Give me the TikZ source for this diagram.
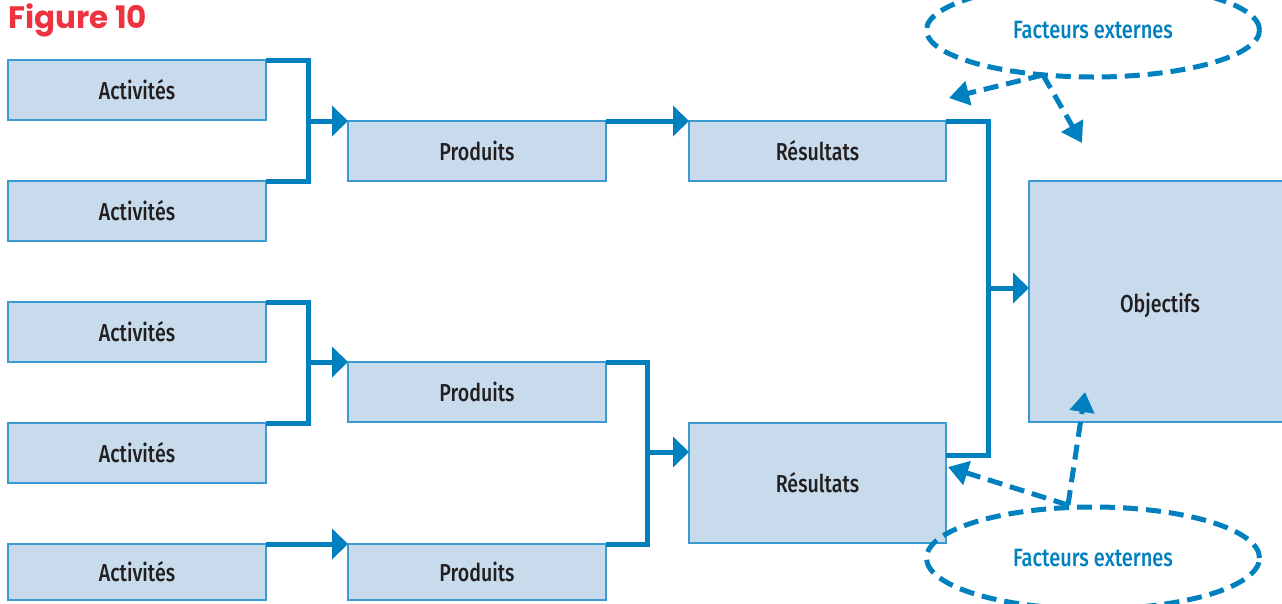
\documentclass[tikz,border=0pt]{standalone}
\usepackage{fontspec}
\usetikzlibrary{arrows.meta,shapes.geometric}
\newfontfamily\boxfont{Fira Sans}[UprightFont=* Medium, FakeStretch=0.8]
\newfontfamily\titlefont{Poppins}
\definecolor{boxfill}{HTML}{C8DBEC}
\definecolor{boxline}{HTML}{3C9AD2}
\definecolor{conncol}{HTML}{0080BE}
\definecolor{txt}{HTML}{231F20}
\definecolor{titlered}{HTML}{EE3340}
\tikzset{
  box/.style={draw=boxline, line width=1.5pt, fill=boxfill, inner sep=0pt, outer sep=0pt,
    minimum width=258pt, minimum height=60pt, anchor=north west,
    font=\boxfont\fontsize{24.5}{26}\selectfont, text=txt},
  conn/.style={draw=conncol, line width=5pt},
  arr/.style={conn, -{Triangle[length=16pt,width=30pt]}},
  darr/.style={conn, dash pattern=on 15pt off 8pt, -{Triangle[length=20pt,width=24pt]}},
  ell/.style={ellipse, draw=conncol, line width=5pt, dash pattern=on 15pt off 8pt,
    minimum width=333pt, inner sep=0pt, text=conncol,
    font=\boxfont\fontsize{25}{26}\selectfont},
}
\begin{document}
\begin{tikzpicture}[x=1pt,y=-1pt]
\useasboundingbox (0,0) rectangle (1282,603);
\node[anchor=base west, inner sep=0pt, text=titlered, font=\titlefont\bfseries\fontsize{31}{32}\selectfont] (title) at (8,28) {Figure 10};
% boxes
\node[box] (a1) at (8,60) {Activités};
\node[box] (a2) at (8,181) {Activités};
\node[box] (a3) at (8,302) {Activités};
\node[box] (a4) at (8,423) {Activités};
\node[box, minimum height=56pt] (a5) at (8,544) {Activités};
\node[box] (p1) at (348,121) {Produits};
\node[box] (p2) at (348,362) {Produits};
\node[box, minimum height=56pt] (p3) at (348,544) {Produits};
\node[box, minimum width=257pt] (r1) at (689,121) {Résultats};
\node[box, minimum width=257pt, minimum height=120pt] (r2) at (689,423) {Résultats};
\node[box, minimum width=262pt, minimum height=241pt] (o) at (1029,181) {\raisebox{-11pt}[0pt][0pt]{Objectifs}};
% junctions
\coordinate (j1) at (308,121);
\coordinate (j2) at (308,362);
\coordinate (j3) at (647,452);
\coordinate (j4) at (988,288);
\coordinate (r2c) at (946,455);
% brackets
\draw[conn] (a1.north east) -| (j1) |- (a2.north east);
\draw[arr] (j1) -- (p1.north west);
\draw[conn] (a3.north east) -| (j2) |- (a4.north east);
\draw[arr] (j2) -- (p2.north west);
\draw[arr] (a5.north east) -- (p3.north west);
\draw[arr] (p1.north east) -- (r1.north west);
\draw[conn] (p2.north east) -| (j3) |- (p3.north east);
\draw[arr] (j3) -- (j3 -| r2.west);
\draw[conn] (r1.north east) -| (j4) |- (r2c);
\draw[arr] (j4) -- (j4 -| o.west);
% external factors
\node[ell, minimum height=94pt] (fe1) at (1093,30) {Facteurs externes};
\node[ell, minimum height=102pt] (fe2) at (1093,558) {Facteurs externes};
\coordinate (s1) at (1043,75);
\coordinate (t1) at (949,98);
\coordinate (t2) at (1082,143);
\coordinate (s2) at (1068,505);
\coordinate (t3) at (948,467);
\coordinate (t4) at (1085,392);
\draw[darr] (s1) -- (t1);
\draw[darr] (s1) -- (t2);
\draw[darr] (s2) -- (t3);
\draw[darr] (s2) -- (t4);
\end{tikzpicture}
\end{document}
